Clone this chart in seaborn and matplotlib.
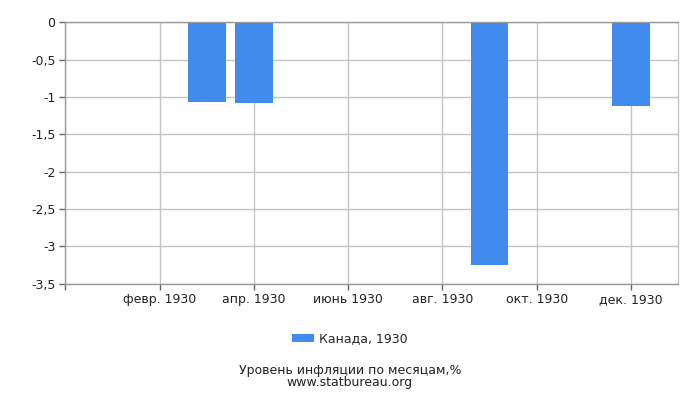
import matplotlib
matplotlib.use('Agg')
import matplotlib.pyplot as plt
import matplotlib.patches as mpatches
from matplotlib.ticker import FuncFormatter
import seaborn as sns
import pandas as pd

# данные: месяц (номер) и инфляция, %
months = [3, 4, 9, 12]
values = [-1.06, -1.08, -3.25, -1.12]
tick_months = [0, 2, 4, 6, 8, 10, 12]
tick_labels = ['', 'февр. 1930', 'апр. 1930', 'июнь 1930', 'авг. 1930', 'окт. 1930', 'дек. 1930']
series_name = 'Канада, 1930'
bar_color = '#418bee'

sns.set_style('whitegrid')
plt.rcParams['font.family'] = ['DejaVu Sans']

df = pd.DataFrame({'month': months, 'value': values})

fig = plt.figure(figsize=(7, 4), dpi=100)
ax = fig.add_axes([0.0933, 0.291, 0.8753, 0.653])

sns.barplot(data=df, x='month', y='value', native_scale=True, color=bar_color,
            saturation=1, width=0.8, ax=ax, errorbar=None, linewidth=0)

ax.set_xlim(0, 13)
ax.set_ylim(-3.5, 0)
ax.set_yticks([0, -0.5, -1, -1.5, -2, -2.5, -3, -3.5])
ax.yaxis.set_major_formatter(FuncFormatter(lambda v, p: ('%g' % v).replace('.', ',')))
ax.set_xticks(tick_months)
ax.set_xticklabels(tick_labels)
ax.set_xlabel('')
ax.set_ylabel('')

ax.grid(True, color='#c4c4c4', linewidth=1)
ax.set_axisbelow(True)
for side in ['left', 'bottom', 'top']:
    ax.spines[side].set_color('#999999')
ax.spines['right'].set_color('#c4c4c4')
for sp in ax.spines.values():
    sp.set_linewidth(1)
ax.tick_params(axis='both', which='both', length=4, width=1, color='#666666',
               labelsize=9, labelcolor='#222222', left=True, bottom=True, pad=3)

handle = mpatches.Patch(color=bar_color, label=series_name, linewidth=0)
fig.legend(handles=[handle], loc='center', bbox_to_anchor=(0.5, 0.1525), frameon=False,
           fontsize=9, handlelength=1.75, handleheight=0.65, handletextpad=0.4)

fig.text(0.5, 1 - 376.5 / 400, 'Уровень инфляции по месяцам,%\nwww.statbureau.org',
         ha='center', va='center', fontsize=9, color='#222222', linespacing=0.85)

fig.savefig('out.png', dpi=100)
